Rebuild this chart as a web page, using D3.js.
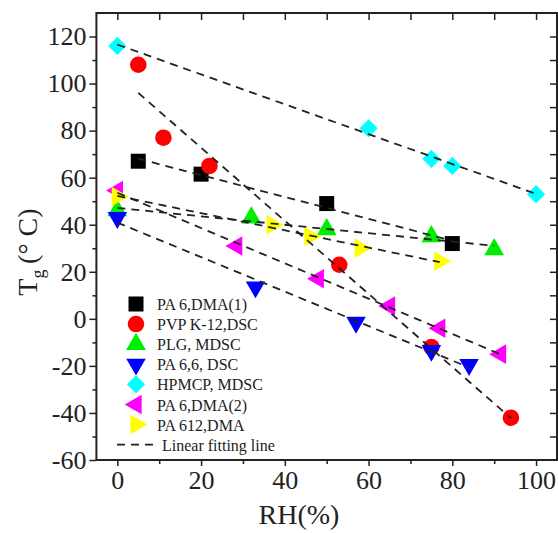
<!DOCTYPE html>
<html>
<head>
<meta charset="utf-8">
<script src="https://cdn.jsdelivr.net/npm/d3@7"></script>
<style>
  html, body { margin: 0; padding: 0; background: #fff; }
  svg { display: block; font-family: "Liberation Serif", "Times New Roman", serif; }
</style>
</head>
<body>
<div id="chart"></div>
<script>
// series data, [RH %, Tg °C]
var pa6dma1 = [[5, 67], [20, 61.5], [50, 49], [80, 32]];
var pvpk12 = [[5, 108], [11, 77], [22, 65], [53, 23], [75, -12], [94, -42]];
var plg = [[0, 46], [32, 43], [50, 38], [75, 35], [90, 29.5]];
var pa66 = [[0, 43], [33, 13.5], [57, -1.5], [75, -13.5], [84, -19.5]];
var hpmcp = [[0, 116], [60, 81], [75, 68], [80, 65], [100, 53]];
var pa6dma2 = [[0, 54.5], [28.5, 31], [48, 17], [65, 5.5], [77, -4], [91.5, -15]];
var pa612 = [[0, 52], [37, 40], [46, 35], [58, 30], [77, 24.5]];

var seriesNames = ["PA 6,DMA(1)", "PVP K-12,DSC", "PLG, MDSC", "PA 6,6, DSC", "HPMCP, MDSC", "PA 6,DMA(2)", "PA 612,DMA"];
var xTicks = [0, 20, 40, 60, 80, 100];
var yTicks = [-60, -40, -20, 0, 20, 40, 60, 80, 100, 120];

var W = 558, H = 533;
var svg = d3.select("#chart").append("svg").attr("width", W).attr("height", H);

var x = d3.scaleLinear().domain([-5, 105]).range([96.4, 557]);
var y = d3.scaleLinear().domain([-60, 130]).range([460, 13]);

var series = [
  {name: seriesNames[0], data: pa6dma1, color: "#000000", type: d3.symbolSquare, rot: 0, size: 225},
  {name: seriesNames[1], data: pvpk12, color: "#ff0000", type: d3.symbolCircle, rot: 0, size: 215},
  {name: seriesNames[2], data: plg, color: "#00ee00", type: d3.symbolTriangle, rot: 0, size: 170},
  {name: seriesNames[3], data: pa66, color: "#0000ff", type: d3.symbolTriangle, rot: 180, size: 165},
  {name: seriesNames[4], data: hpmcp, color: "#00ffff", type: d3.symbolSquare, rot: 45, size: 165},
  {name: seriesNames[5], data: pa6dma2, color: "#ff00ff", type: d3.symbolTriangle, rot: -90, size: 165},
  {name: seriesNames[6], data: pa612, color: "#ffff00", type: d3.symbolTriangle, rot: 90, size: 165}
];

// axes: left/bottom outward with labels, top/right inward without
var minorY = d3.range(-50, 130, 20);
var minorX = d3.range(10, 100, 20);
var plain = function(d) { return String(d); };

function styleAxis(g) {
  g.select(".domain").remove();
  g.selectAll("line").attr("stroke", "#222").attr("stroke-width", 1.5);
  g.selectAll("text").attr("fill", "#222").attr("font-size", "26px")
    .attr("font-family", "Liberation Serif, Times New Roman, serif");
}

svg.append("g").attr("transform", "translate(" + x.range()[0] + ",0)")
  .call(d3.axisLeft(y).tickValues(yTicks).tickSize(7).tickPadding(3).tickFormat(plain)).call(styleAxis);
svg.append("g").attr("transform", "translate(" + x.range()[0] + ",0)")
  .call(d3.axisLeft(y).tickValues(minorY).tickSize(4).tickFormat("")).call(styleAxis);
svg.append("g").attr("transform", "translate(0,460)")
  .call(d3.axisBottom(x).tickValues(xTicks).tickSize(6).tickPadding(5).tickFormat(plain)).call(styleAxis);
svg.append("g").attr("transform", "translate(0,460)")
  .call(d3.axisBottom(x).tickValues(minorX).tickSize(4).tickFormat("")).call(styleAxis);

svg.append("g").attr("transform", "translate(0,13)")
  .call(d3.axisTop(x).tickValues(d3.range(0, 101, 10)).tickSize(-7).tickFormat("")).call(styleAxis);
svg.append("g").attr("transform", "translate(" + x.range()[1] + ",0)")
  .call(d3.axisRight(y).tickValues(d3.range(-50, 130, 10)).tickSize(-7).tickFormat("")).call(styleAxis);

svg.append("rect")
  .attr("x", x.range()[0]).attr("y", 13)
  .attr("width", x.range()[1] - x.range()[0]).attr("height", 460 - 13)
  .attr("fill", "none").attr("stroke", "#222").attr("stroke-width", 2);

// markers
series.forEach(function(s) {
  var sym = d3.symbol().type(s.type).size(s.size);
  svg.append("g").selectAll("path").data(s.data).enter().append("path")
    .attr("d", sym)
    .attr("transform", function(d) { return "translate(" + x(d[0]) + "," + y(d[1]) + ") rotate(" + s.rot + ")"; })
    .attr("fill", s.color);
});

// linear fits (least squares over each series)
function fit(data) {
  var mx = d3.mean(data, function(d) { return d[0]; });
  var my = d3.mean(data, function(d) { return d[1]; });
  var sxy = d3.sum(data, function(d) { return (d[0] - mx) * (d[1] - my); });
  var sxx = d3.sum(data, function(d) { return (d[0] - mx) * (d[0] - mx); });
  var k = sxy / sxx, b = my - k * mx;
  var ex = d3.extent(data, function(d) { return d[0]; });
  return [[ex[0], k * ex[0] + b], [ex[1], k * ex[1] + b]];
}

var line = d3.line().x(function(d) { return x(d[0]); }).y(function(d) { return y(d[1]); });
series.forEach(function(s) {
  svg.append("path").attr("d", line(fit(s.data)))
    .attr("fill", "none").attr("stroke", "#222").attr("stroke-width", 1.8)
    .attr("stroke-dasharray", "8,6");
});

// legend
var lg = svg.append("g");
series.forEach(function(s, i) {
  var yy = 304 + i * 20.1;
  lg.append("path").attr("d", d3.symbol().type(s.type).size(s.size)())
    .attr("transform", "translate(136," + yy + ") rotate(" + s.rot + ")")
    .attr("fill", s.color);
  lg.append("text").attr("x", 157).attr("y", yy + 6).text(s.name)
    .attr("font-size", "16px").attr("fill", "#222");
});
var ly = 304 + 7 * 20.1;
lg.append("line").attr("x1", 117).attr("x2", 154).attr("y1", ly).attr("y2", ly)
  .attr("stroke", "#222").attr("stroke-width", 1.8).attr("stroke-dasharray", "8,6");
lg.append("text").attr("x", 162).attr("y", ly + 6).text("Linear fitting line")
  .attr("font-size", "16px").attr("fill", "#222");

// axis titles
svg.append("text").attr("x", 299).attr("y", 524).attr("text-anchor", "middle")
  .attr("font-size", "28px").attr("fill", "#222").text("RH(%)");

var yt = svg.append("text").attr("transform", "translate(37,252) rotate(-90)")
  .attr("text-anchor", "middle").attr("font-size", "28px").attr("fill", "#222");
yt.append("tspan").text("T");
yt.append("tspan").attr("font-size", "18px").attr("dy", 7).text("g");
yt.append("tspan").attr("dy", -7).text("\u2009(\u00b0 C)");
</script>
</body>
</html>
